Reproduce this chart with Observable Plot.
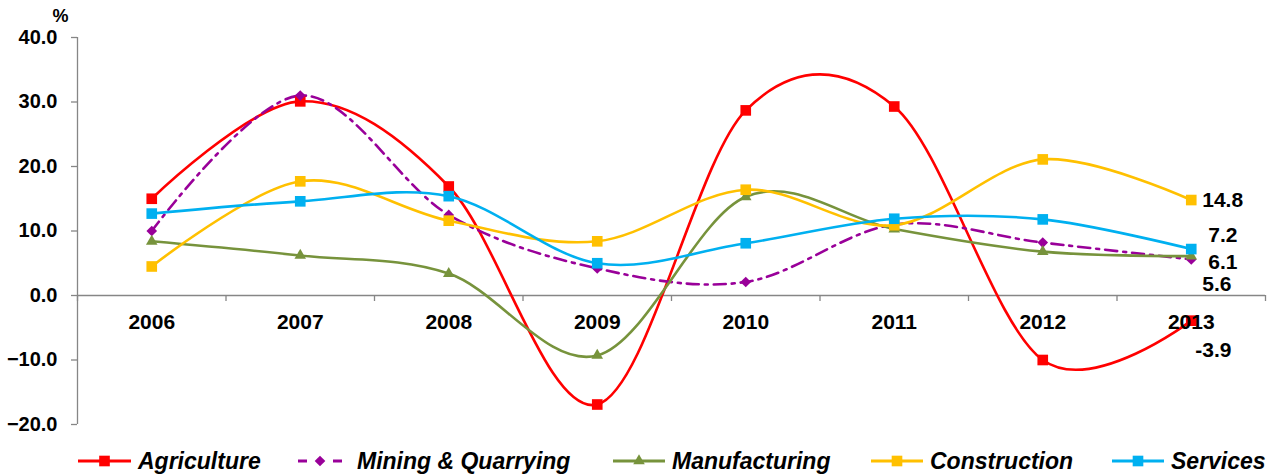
<!DOCTYPE html>
<html>
<head>
<meta charset="utf-8">
<script src="https://cdn.jsdelivr.net/npm/d3@7"></script>
<script src="https://cdn.jsdelivr.net/npm/@observablehq/plot@0.6"></script>
<style>
  html, body { margin: 0; padding: 0; background: #fff; }
  body { width: 1282px; height: 475px; overflow: hidden; font-family: "Liberation Sans", Arial, sans-serif; }
  #legend { position: relative; height: 35px; }
  .item { position: absolute; top: 8px; display: flex; align-items: center; white-space: nowrap; }
  .item span { font-weight: bold; font-style: italic; font-size: 23px; color: #000; line-height: 26px; }
</style>
</head>
<body>
<div id="chart"></div>
<div id="legend"></div>
<script>
// ---- data ----
const years = [2006, 2007, 2008, 2009, 2010, 2011, 2012, 2013];
const agriculture   = [15.0, 30.1, 16.9, -16.9, 28.7, 29.3, -10.0, -3.9];
const mining        = [10.0, 31.0, 12.5, 4.2, 2.1, 11.0, 8.2, 5.6];
const manufacturing = [8.4, 6.2, 3.4, -9.3, 15.3, 10.3, 6.8, 6.1];
const construction  = [4.5, 17.7, 11.6, 8.4, 16.4, 10.9, 21.1, 14.8];
const services      = [12.7, 14.6, 15.4, 5.0, 8.1, 11.9, 11.8, 7.2];
const seriesNames = ["Agriculture", "Mining & Quarrying", "Manufacturing", "Construction", "Services"];
const yTicks = [-20, -10, 0, 10, 20, 30, 40];
const endLabels = ["-3.9", "5.6", "6.1", "14.8", "7.2"]; // last-year labels per series

// ---- styling ----
const seriesValues = [agriculture, mining, manufacturing, construction, services];
const colors = ["#FF0000", "#990099", "#77933C", "#FFC000", "#00B0F0"];
const symbols = ["square", "diamond2", "triangle", "square", "square"];
const radii = [6, 4.8, 4.3, 6, 6];
const dashes = [null, "12,6,3,6", null, null, null];
const labelOffsets = [{dx: 4, dy: 30}, {dx: 11, dy: 25}, {dx: 17, dy: 6}, {dx: 11, dy: 0}, {dx: 17, dy: -14}];
const legendLeft = [78, 298, 613, 871, 1112];
const legendSwatch = [53, 44, 52, 52, 52];

const axisGray = "#868686";
const xDomain = [years[0] - 0.5, years[years.length - 1] + 0.5];
const boundaries = [...years.map(y => y - 0.5), years[years.length - 1] + 0.5];

const series = seriesNames.map((name, i) => ({
  name, color: colors[i], symbol: symbols[i], r: radii[i], dash: dashes[i],
  data: years.map((year, j) => ({year, value: seriesValues[i][j]})),
  label: endLabels[i], offset: labelOffsets[i]
}));

const fmt = d3.format(".1f");
const marks = [
  Plot.ruleY([0], {stroke: axisGray, strokeWidth: 1.3}),
  Plot.ruleX([xDomain[0]], {y1: yTicks[0], y2: yTicks[yTicks.length - 1], stroke: axisGray, strokeWidth: 1.3}),
  Plot.ruleY(yTicks, {x1: xDomain[0], x2: xDomain[0], insetLeft: -6, stroke: axisGray, strokeWidth: 1.3}),
  Plot.text(yTicks, {x: xDomain[0], y: d => d, text: d => fmt(d), dx: -20, textAnchor: "end", fontSize: 20, fontWeight: "bold", fill: "#000"}),
  Plot.ruleX(boundaries, {y1: 0, y2: 0, insetBottom: -6, stroke: axisGray, strokeWidth: 1.3}),
  Plot.text(["%"], {frameAnchor: "top-left", textAnchor: "middle", lineAnchor: "top", dx: -17, dy: -28, fontSize: 18, fontWeight: "bold", fill: "#000"})
];
for (const s of series) {
  marks.push(Plot.line(s.data, {x: "year", y: "value", stroke: s.color, strokeWidth: 2.6, curve: "cardinal", strokeDasharray: s.dash || undefined}));
}
for (const s of series) {
  marks.push(Plot.dot(s.data, {x: "year", y: "value", symbol: s.symbol, r: s.r, fill: s.color, stroke: "none"}));
}
marks.push(Plot.text(years, {x: d => d, y: 0, text: d => String(d), dy: 27, fontSize: 21, fontWeight: "bold", fill: "#000"}));
for (const s of series) {
  const last = s.data[s.data.length - 1];
  marks.push(Plot.text([last], {x: "year", y: "value", text: () => s.label, dx: s.offset.dx, dy: s.offset.dy, textAnchor: "start", fontSize: 21, fontWeight: "bold", fill: "#000"}));
}

const chart = Plot.plot({
  width: 1282,
  height: 440,
  marginLeft: 77,
  marginRight: 17,
  marginTop: 37,
  marginBottom: 16,
  x: {domain: xDomain, axis: null},
  y: {domain: [yTicks[0], yTicks[yTicks.length - 1]], axis: null},
  style: {fontFamily: "'Liberation Sans', Arial, sans-serif", background: "#fff", overflow: "visible"},
  marks
});
document.getElementById("chart").appendChild(chart);

// ---- legend ----
const legend = document.getElementById("legend");
const ns = "http://www.w3.org/2000/svg";
const symMap = {square: d3.symbolSquare, diamond2: d3.symbolDiamond2 || d3.symbolDiamond, triangle: d3.symbolTriangle};
series.forEach((s, i) => {
  const item = document.createElement("div");
  item.className = "item";
  item.style.left = legendLeft[i] + "px";
  const w = legendSwatch[i];
  const svg = document.createElementNS(ns, "svg");
  svg.setAttribute("width", w); svg.setAttribute("height", 20);
  svg.style.marginRight = "7px";
  const addLine = (x1, x2) => {
    const line = document.createElementNS(ns, "line");
    line.setAttribute("x1", x1); line.setAttribute("x2", x2);
    line.setAttribute("y1", 10); line.setAttribute("y2", 10);
    line.setAttribute("stroke", s.color); line.setAttribute("stroke-width", 3);
    svg.appendChild(line);
  };
  if (s.dash) { addLine(0, 9); addLine(w - 9, w); } else addLine(0, w);
  const p = document.createElementNS(ns, "path");
  p.setAttribute("d", d3.symbol(symMap[s.symbol], Math.PI * s.r * s.r)());
  p.setAttribute("transform", `translate(${w / 2},10)`);
  p.setAttribute("fill", s.color);
  svg.appendChild(p);
  item.appendChild(svg);
  const span = document.createElement("span");
  span.textContent = s.name;
  if (s.dash) span.style.marginLeft = "8px";
  item.appendChild(span);
  legend.appendChild(item);
});
</script>
</body>
</html>
